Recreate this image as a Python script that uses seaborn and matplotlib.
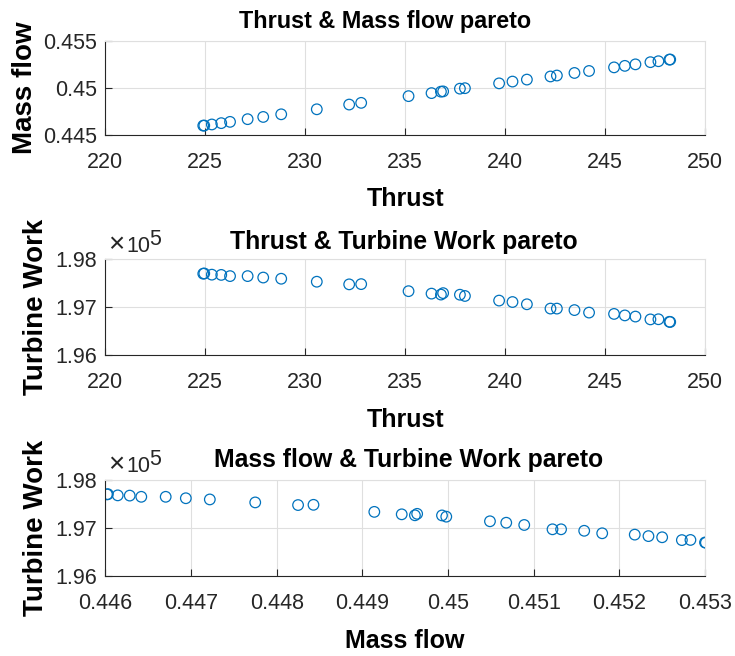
import matplotlib
matplotlib.use("Agg")
import matplotlib.pyplot as plt
import seaborn as sns
import pandas as pd
from matplotlib.ticker import FuncFormatter, FixedLocator
from matplotlib.transforms import offset_copy

# ---- data (31 pareto points) ----
thrust = [224.90, 224.95, 225.33, 225.80, 226.24, 227.12, 227.90, 228.80, 230.58,
          232.20, 232.80, 235.17, 236.32, 236.79, 236.90, 237.74, 237.99, 239.70,
          240.37, 241.09, 242.27, 242.59, 243.47, 244.20, 245.45, 245.99, 246.52,
          247.27, 247.67, 248.22, 248.26]
mass_flow = [0.446020, 0.446030, 0.446145, 0.446285, 0.446420, 0.446705, 0.446940,
             0.447220, 0.447750, 0.448250, 0.448430, 0.449140, 0.449460, 0.449614,
             0.449640, 0.449930, 0.449980, 0.450490, 0.450680, 0.450890, 0.451220,
             0.451320, 0.451590, 0.451800, 0.452180, 0.452340, 0.452500, 0.452730,
             0.452830, 0.453000, 0.453010]
turbine_work = [197700, 197705, 197680, 197675, 197650, 197650, 197620, 197595,
                197533, 197478, 197483, 197336, 197285, 197265, 197295, 197262,
                197236, 197140, 197110, 197063, 196973, 196973, 196942, 196890,
                196862, 196831, 196807, 196748, 196751, 196698, 196694]

thrust_ticks = [220, 225, 230, 235, 240, 245, 250]
mf_ticks1 = [0.445, 0.45, 0.455]
tw_ticks = [196000, 197000, 198000]
mf_ticks3 = [0.446, 0.447, 0.448, 0.449, 0.45, 0.451, 0.452, 0.453]

titles = ["Thrust & Mass flow pareto", "Thrust & Turbine Work pareto",
          "Mass flow & Turbine Work pareto"]

df = pd.DataFrame({"Thrust": thrust, "Mass flow": mass_flow, "Turbine Work": turbine_work})

sns.set_theme(style="ticks")
plt.rcParams["font.family"] = ["Liberation Sans", "DejaVu Sans"]

DARK = "#262626"
GRID = "#dfdfdf"
BLUE = "#0072BD"

fig = plt.figure(figsize=(7.35, 6.56), dpi=100)
W, H = 735.0, 656.0
left_px, right_px = 105.3, 705.0
panels_px = [(40.7, 135.3), (259.3, 355.3), (480.0, 576.0)]
axes = []
for top, bot in panels_px:
    axes.append(fig.add_axes([left_px / W, 1 - bot / H, (right_px - left_px) / W, (bot - top) / H]))

specs = [
    ("Thrust", "Mass flow", (220, 250), (0.445, 0.455), thrust_ticks, mf_ticks1),
    ("Thrust", "Turbine Work", (220, 250), (196000, 198000), thrust_ticks, tw_ticks),
    ("Mass flow", "Turbine Work", (0.446, 0.453), (196000, 198000), mf_ticks3, tw_ticks),
]
title_cfg = [(0.466, 1.134, 16.8), (0.498, 1.107, 17.8), (0.505, 1.135, 17.8)]
ylabel_x = [-0.112, -0.094, -0.094]

for i, (ax, (xc, yc, xl, yl, xt, yt)) in enumerate(zip(axes, specs)):
    sns.scatterplot(data=df, x=xc, y=yc, ax=ax, marker="o", s=58,
                    facecolors="none", edgecolor=BLUE, linewidth=0.9, legend=False)
    ax.set_xlim(*xl)
    ax.set_ylim(*yl)
    ax.xaxis.set_major_locator(FixedLocator(xt))
    ax.yaxis.set_major_locator(FixedLocator(yt))
    ax.xaxis.set_major_formatter(FuncFormatter(lambda v, p: f"{v:g}"))
    if yc == "Turbine Work":
        ax.yaxis.set_major_formatter(FuncFormatter(lambda v, p: f"{v / 1e5:.2f}"))
        yb = 1.076 if i == 1 else 1.083
        for s_txt, dx, dy, fsz in [("\u00d7", 0, 0, 20), ("10", 18, 0, 15.5), ("5", 41, 7, 15.5)]:
            ax.text(0.0045, yb, s_txt, ha="left", va="baseline", fontsize=fsz, color=DARK,
                    transform=offset_copy(ax.transAxes, fig=fig, x=dx, y=dy, units="dots"))
    else:
        ax.yaxis.set_major_formatter(FuncFormatter(lambda v, p: f"{v:g}"))
    ax.grid(True, color=GRID, linewidth=0.8)
    ax.set_axisbelow(True)
    for s in ["left", "bottom"]:
        ax.spines[s].set_color(DARK)
        ax.spines[s].set_linewidth(0.8)
    for s in ["top", "right"]:
        ax.spines[s].set_color(GRID)
        ax.spines[s].set_linewidth(0.8)
    ax.tick_params(axis="both", direction="in", length=5, width=0.8, color=DARK,
                   labelcolor=DARK, labelsize=15.5, top=False, right=False)
    ax.tick_params(axis="x", pad=12)
    ax.tick_params(axis="y", pad=6)
    ax.set_xlabel(xc, fontsize=18, fontweight="bold", color="black")
    ax.set_ylabel(yc, fontsize=20, fontweight="bold", color="black")
    ax.xaxis.set_label_coords(0.5, -0.55)
    ax.yaxis.set_label_coords(ylabel_x[i], 0.5)
    tx, ty, fs = title_cfg[i]
    ax.text(tx, ty, titles[i], transform=ax.transAxes, ha="center", va="baseline",
            fontsize=fs, fontweight="bold", color="black")

fig.savefig("out.png", dpi=100)
